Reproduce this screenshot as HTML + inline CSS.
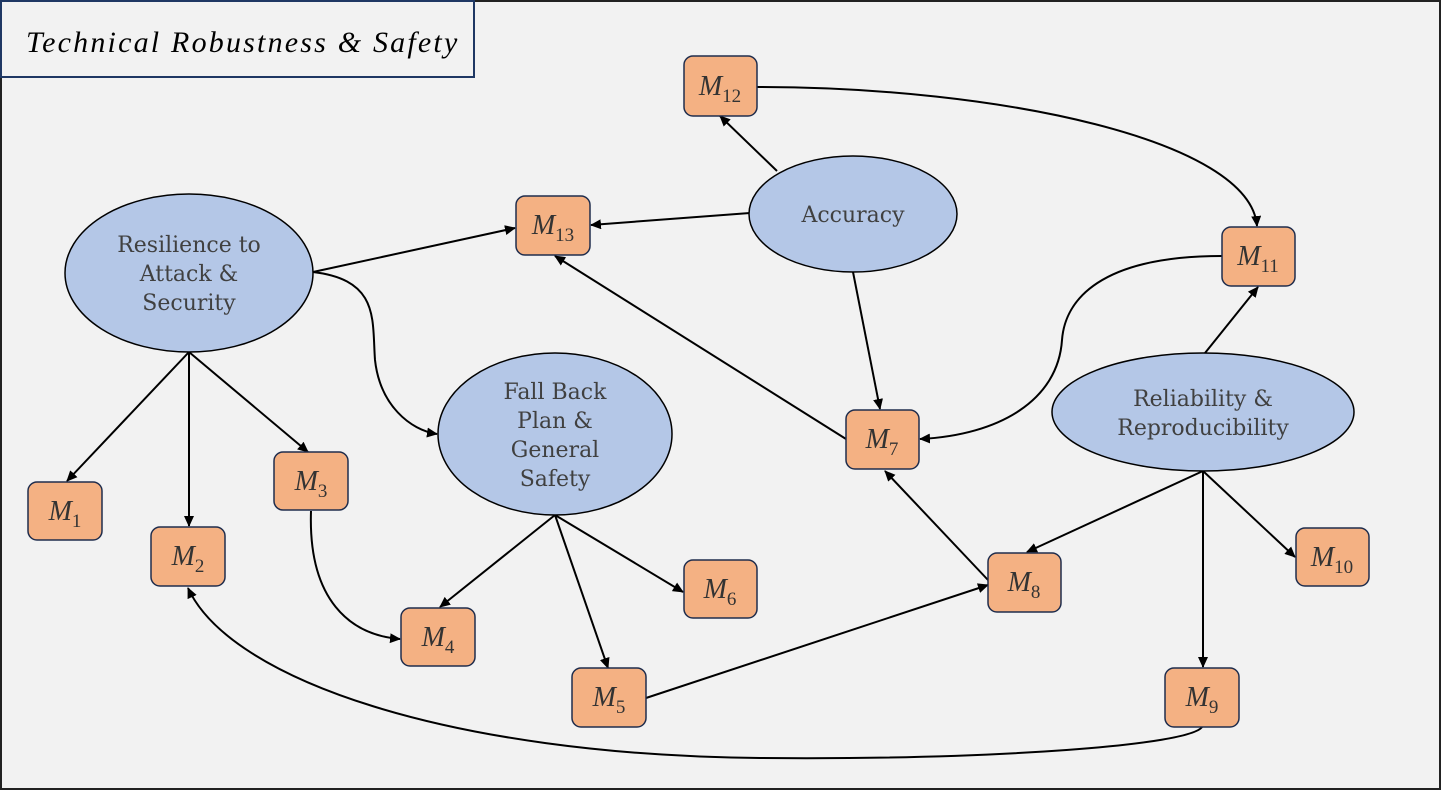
<!DOCTYPE html>
<html><head><style>body{margin:0;background:#f2f2f2}svg{display:block}</style></head><body>
<svg width="1441" height="790" xmlns="http://www.w3.org/2000/svg">
<defs><marker id="a" markerWidth="12" markerHeight="12" refX="10" refY="5" orient="auto" markerUnits="userSpaceOnUse"><path d="M0,0 L11,5 L0,10 z" fill="#000"/></marker></defs>
<rect x="1" y="1" width="1439" height="788" fill="#f2f2f2" stroke="#222" stroke-width="2"/>
<rect x="1" y="1" width="473" height="76" fill="#f2f2f2" stroke="#1f3864" stroke-width="2"/>
<text x="26" y="52" font-family="Liberation Serif, serif" font-style="italic" font-size="30" letter-spacing="2.2" fill="#000">Technical Robustness &amp; Safety</text>
<g stroke="#000" stroke-width="2" fill="none" marker-end="url(#a)">
<line x1="189" y1="352" x2="67" y2="481"/>
<line x1="189" y1="352" x2="189" y2="526"/>
<line x1="189" y1="352" x2="308" y2="452"/>
<line x1="313" y1="272" x2="515" y2="228"/>
<path d="M313,272 C380,280 372,320 375,360 C380,405 410,430 437,434"/>
<line x1="750" y1="213" x2="591" y2="225"/>
<line x1="777" y1="171" x2="720" y2="116"/>
<line x1="853" y1="272" x2="880" y2="409"/>
<path d="M757,87 C1000,87 1250,140 1257,226"/>
<path d="M1222,256 C1100,256 1065,300 1062,340 C1058,400 1000,435 920,439"/>
<line x1="1205" y1="353" x2="1258" y2="287"/>
<line x1="846" y1="439" x2="555" y2="256"/>
<line x1="988" y1="580" x2="885" y2="471"/>
<line x1="1203" y1="471" x2="1027" y2="552"/>
<line x1="1203" y1="471" x2="1203" y2="667"/>
<line x1="1203" y1="471" x2="1295" y2="557"/>
<line x1="555" y1="515" x2="440" y2="607"/>
<line x1="555" y1="515" x2="608" y2="668"/>
<line x1="555" y1="515" x2="683" y2="592"/>
<path d="M311,511 C308,600 350,635 400,639"/>
<line x1="646" y1="698" x2="988" y2="585"/>
<path d="M1202,727 C1190,745 1000,760 760,758 C450,755 230,680 188,588"/>
</g>
<g fill="#b4c7e7" stroke="#000" stroke-width="1.5">
<ellipse cx="189" cy="273" rx="124" ry="79"/>
<ellipse cx="853" cy="214" rx="104" ry="58"/>
<ellipse cx="555" cy="434" rx="117" ry="81"/>
<ellipse cx="1203" cy="412" rx="151" ry="59"/>
</g>
<g font-family="DejaVu Serif, serif" font-size="22" fill="#404040" text-anchor="middle">
<text x="189" y="252">Resilience to</text><text x="189" y="281">Attack &amp;</text><text x="189" y="310">Security</text>
<text x="853" y="222">Accuracy</text>
<text x="555" y="399">Fall Back</text><text x="555" y="428">Plan &amp;</text><text x="555" y="457">General</text><text x="555" y="486">Safety</text>
<text x="1203" y="406">Reliability &amp;</text><text x="1203" y="435">Reproducibility</text>
</g>
<g fill="#f4b183" stroke="#1f2d4d" stroke-width="1.5">
<rect x="684" y="56" width="73" height="60" rx="9"/>
<rect x="516" y="196" width="74" height="59" rx="9"/>
<rect x="1222" y="227" width="73" height="59" rx="9"/>
<rect x="28" y="482" width="74" height="58" rx="9"/>
<rect x="151" y="527" width="74" height="59" rx="9"/>
<rect x="274" y="452" width="74" height="58" rx="9"/>
<rect x="401" y="608" width="74" height="58" rx="9"/>
<rect x="572" y="668" width="74" height="59" rx="9"/>
<rect x="684" y="560" width="73" height="58" rx="9"/>
<rect x="846" y="410" width="73" height="59" rx="9"/>
<rect x="988" y="553" width="73" height="59" rx="9"/>
<rect x="1165" y="668" width="74" height="59" rx="9"/>
<rect x="1296" y="528" width="73" height="58" rx="9"/>
</g>
<g font-family="Liberation Serif, serif" font-size="28" font-style="italic" fill="#333" text-anchor="middle">
<text x="720" y="95">M<tspan font-size="19" font-style="normal" dy="7">12</tspan></text>
<text x="553" y="234">M<tspan font-size="19" font-style="normal" dy="7">13</tspan></text>
<text x="1258" y="265">M<tspan font-size="19" font-style="normal" dy="7">11</tspan></text>
<text x="65" y="520">M<tspan font-size="19" font-style="normal" dy="7">1</tspan></text>
<text x="188" y="565">M<tspan font-size="19" font-style="normal" dy="7">2</tspan></text>
<text x="311" y="490">M<tspan font-size="19" font-style="normal" dy="7">3</tspan></text>
<text x="438" y="646">M<tspan font-size="19" font-style="normal" dy="7">4</tspan></text>
<text x="609" y="706">M<tspan font-size="19" font-style="normal" dy="7">5</tspan></text>
<text x="720" y="598">M<tspan font-size="19" font-style="normal" dy="7">6</tspan></text>
<text x="882" y="448">M<tspan font-size="19" font-style="normal" dy="7">7</tspan></text>
<text x="1024" y="591">M<tspan font-size="19" font-style="normal" dy="7">8</tspan></text>
<text x="1202" y="706">M<tspan font-size="19" font-style="normal" dy="7">9</tspan></text>
<text x="1332" y="566">M<tspan font-size="19" font-style="normal" dy="7">10</tspan></text>
</g>
</svg>
</body></html>
